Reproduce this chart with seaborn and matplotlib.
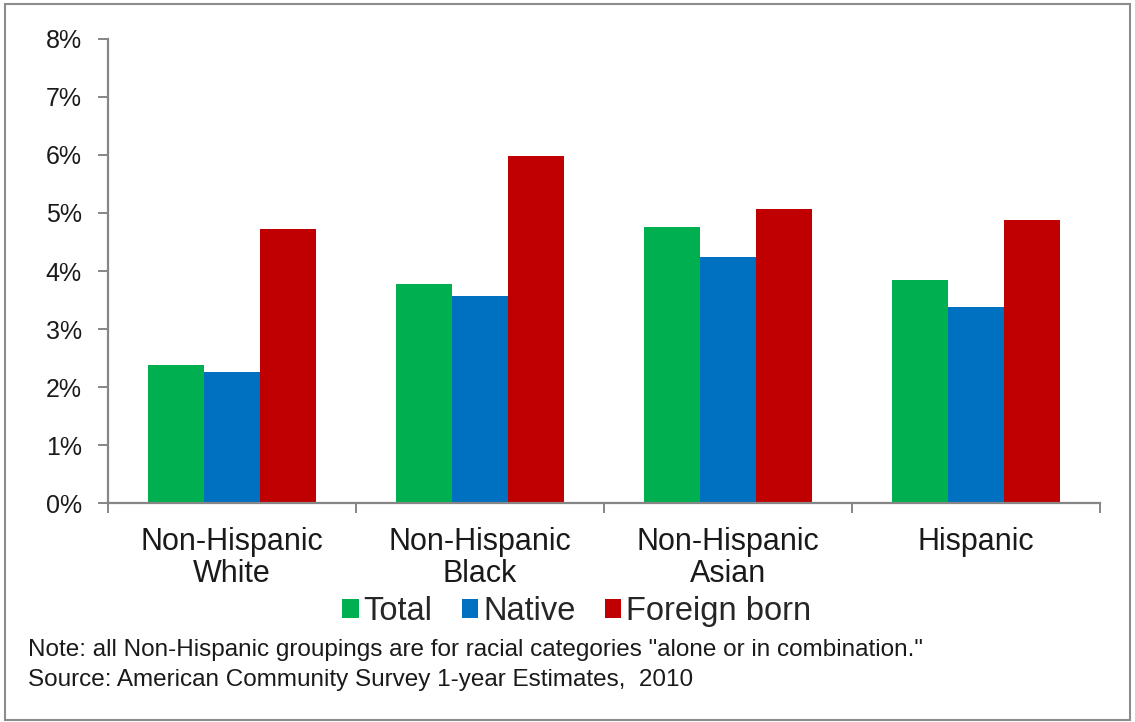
import matplotlib
matplotlib.use("Agg")
import matplotlib.pyplot as plt
from matplotlib.patches import Rectangle, Patch
from matplotlib.ticker import FixedLocator, PercentFormatter
import seaborn as sns
import pandas as pd

categories = ["Non-Hispanic\nWhite", "Non-Hispanic\nBlack", "Non-Hispanic\nAsian", "Hispanic"]
series = ["Total", "Native", "Foreign born"]
total = [2.38, 3.78, 4.76, 3.84]
native = [2.26, 3.57, 4.24, 3.38]
foreign_born = [4.72, 5.98, 5.07, 4.88]
colors = ["#00B050", "#0070C0", "#C00000"]
y_ticks = [0, 1, 2, 3, 4, 5, 6, 7, 8]
note_lines = [
    'Note: all Non-Hispanic groupings are for racial categories "alone or in combination."',
    "Source: American Community Survey 1-year Estimates,  2010",
]

df = pd.DataFrame({
    "group": categories * 3,
    "series": [s for s in series for _ in categories],
    "rate": total + native + foreign_born,
})

sns.set_theme(style="white")
plt.rcParams["font.family"] = ["Liberation Sans", "DejaVu Sans"]

fig = plt.figure(figsize=(11.35, 7.22), dpi=100)
ax = fig.add_axes([0.0952, 0.3033, 0.8738, 0.6427])

sns.barplot(data=df, x="group", y="rate", hue="series", hue_order=series,
            palette=colors, width=0.68, gap=0, saturation=1, ax=ax,
            edgecolor="none", linewidth=0, legend=False)

axis_grey = "#868686"
ax.set_xlim(-0.5, len(categories) - 0.5)
ax.set_ylim(0, 8)
ax.yaxis.set_major_locator(FixedLocator(y_ticks))
ax.yaxis.set_major_formatter(PercentFormatter(decimals=0))
ax.set_xlabel("")
ax.set_ylabel("")
for side in ["top", "right"]:
    ax.spines[side].set_visible(False)
for side in ["left", "bottom"]:
    ax.spines[side].set_color(axis_grey)
    ax.spines[side].set_linewidth(1.6)

ax.tick_params(axis="y", which="major", direction="out", length=7, width=1.4,
               color=axis_grey, labelsize=18, labelcolor="#1a1a1a", pad=12, left=True)
ax.tick_params(axis="x", which="major", length=0, labelsize=22, labelcolor="#1a1a1a", pad=17)
ax.xaxis.set_minor_locator(FixedLocator([i - 0.5 for i in range(len(categories) + 1)]))
ax.tick_params(axis="x", which="minor", direction="out", length=7, width=1.4,
               color=axis_grey, bottom=True)
for lbl in ax.get_xticklabels():
    lbl.set_linespacing(1.1)

handles = [Patch(facecolor=c, edgecolor="none", label=s) for c, s in zip(colors, series)]
fig.legend(handles=handles, loc="center", bbox_to_anchor=(0.508, 0.153), ncol=3,
           frameon=False, fontsize=23.5, handlelength=0.5, handleheight=0.5,
           handletextpad=0.15, columnspacing=0.9)

fig.text(0.025, 0.100, note_lines[0], fontsize=17.5, color="#1a1a1a", va="center")
fig.text(0.025, 0.058, note_lines[1], fontsize=17.5, color="#1a1a1a", va="center")

fig.patches.append(Rectangle((0.004, 0.003), 0.992, 0.992, transform=fig.transFigure,
                             fill=False, edgecolor="#8c8c8c", linewidth=1.5))

fig.savefig("out.png", dpi=100, facecolor="white")
